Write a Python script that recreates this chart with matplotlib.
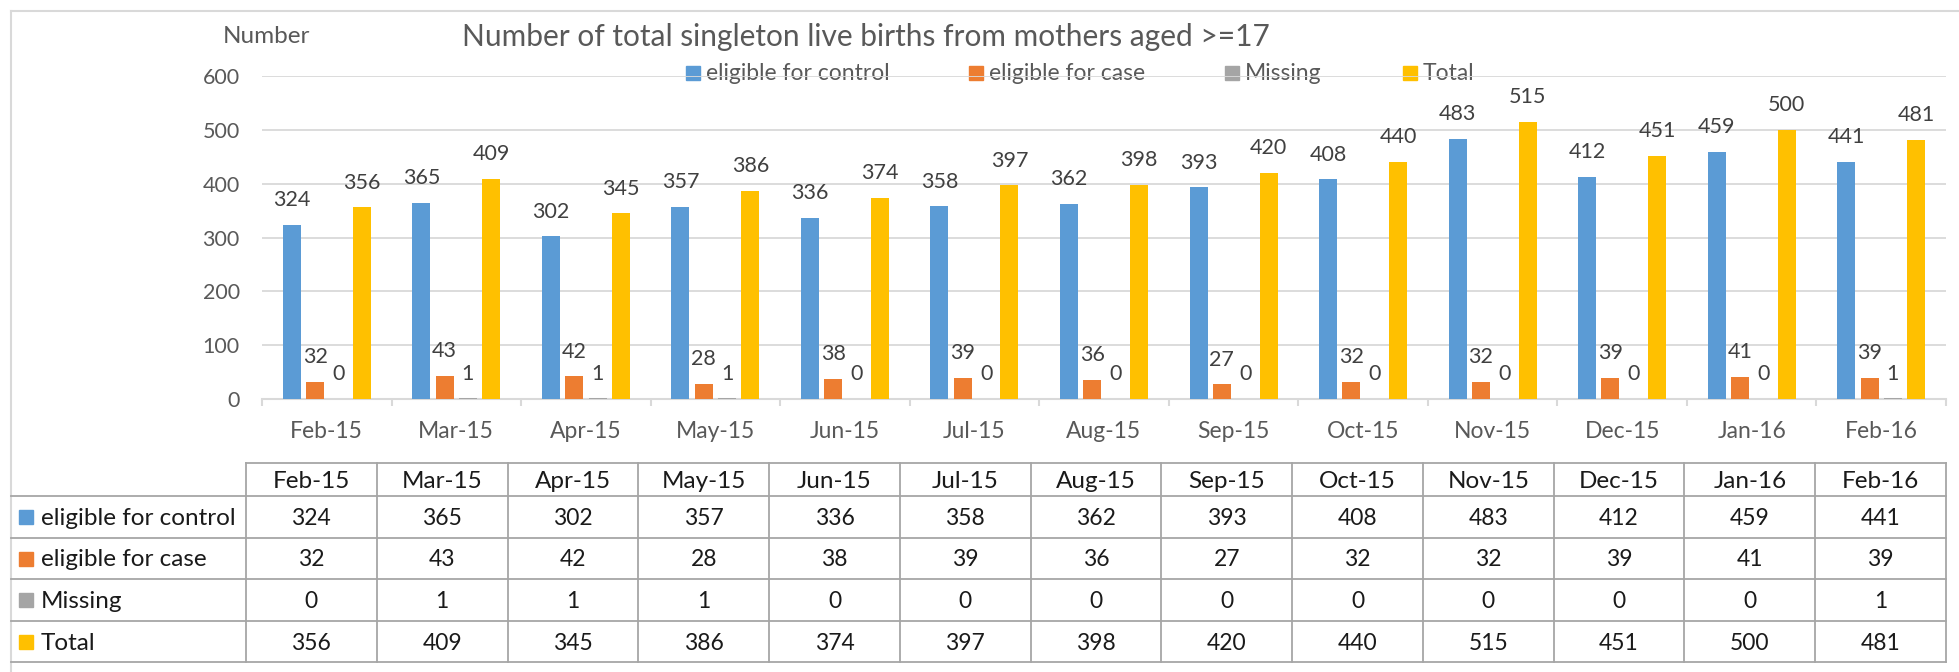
import numpy as np
import matplotlib
matplotlib.use('Agg')
import matplotlib.pyplot as plt
from matplotlib.patches import Rectangle

plt.rcParams['font.family'] = ['Lato', 'DejaVu Sans']

months = ['Feb-15', 'Mar-15', 'Apr-15', 'May-15', 'Jun-15', 'Jul-15', 'Aug-15',
          'Sep-15', 'Oct-15', 'Nov-15', 'Dec-15', 'Jan-16', 'Feb-16']
series_names = ['eligible for control', 'eligible for case', 'Missing', 'Total']
control = [324, 365, 302, 357, 336, 358, 362, 393, 408, 483, 412, 459, 441]
case = [32, 43, 42, 28, 38, 39, 36, 27, 32, 32, 39, 41, 39]
missing = [0, 1, 1, 1, 0, 0, 0, 0, 0, 0, 0, 0, 1]
total = [356, 409, 345, 386, 374, 397, 398, 420, 440, 515, 451, 500, 481]
y_ticks = [0, 100, 200, 300, 400, 500, 600]

colors = ['#5b9bd5', '#ed7d31', '#a5a5a5', '#ffc000']
series = [control, case, missing, total]

W, H = 1959, 672
fig = plt.figure(figsize=(W / 100, H / 100), dpi=100)

# background axes in pixel coords (frame, title, legend, data table)
bg = fig.add_axes([0, 0, 1, 1], zorder=0)
bg.set_xlim(0, W)
bg.set_ylim(H, 0)
bg.axis('off')

# chart area
ax = fig.add_axes([262 / W, 1 - 399 / H, (1946 - 262) / W, (399 - 76) / H], zorder=1)
ax.set_facecolor('none')

idx = np.arange(len(months))
offsets = [-0.27, -0.09, 0.09, 0.27]
bar_w = 0.139

for k, vals in enumerate(series):
    xs = idx + offsets[k]
    ax.bar(xs, vals, width=bar_w, color=colors[k], zorder=3)
    for x, v in zip(xs, vals):
        ax.annotate(str(v), (x, v), xytext=(0, 13.5), textcoords='offset points',
                    ha='center', va='baseline', fontsize=15.5, color='#404040')

ax.set_xlim(-0.5, len(months) - 0.5)
ax.set_ylim(0, 600)
ax.set_yticks(y_ticks)
ax.yaxis.grid(True, color='#d9d9d9', linewidth=1.3)
ax.set_axisbelow(True)
for s in ['top', 'right', 'left']:
    ax.spines[s].set_visible(False)
ax.spines['bottom'].set_color('#d9d9d9')
ax.spines['bottom'].set_linewidth(1.5)

# category boundaries get the tick marks, centres get the labels
ax.set_xticks(np.arange(-0.5, len(months)), labels=[''] * (len(months) + 1))
ax.set_xticks(idx, labels=months, minor=True)
ax.tick_params(axis='x', which='major', length=5, width=1.5, color='#d9d9d9')
ax.tick_params(axis='x', which='minor', length=0, pad=15.5, labelsize=16.5, labelcolor='#595959')
ax.tick_params(axis='y', length=0, pad=16, labelsize=15.5, labelcolor='#595959')

# outer frame (only top and left edges are visible in the crop)
bg.plot([11, 11], [11, H], color='#d9d9d9', linewidth=1.5)
bg.plot([11, W], [11, 11], color='#d9d9d9', linewidth=1.5)

# titles
bg.text(866, 46, 'Number of total singleton live births from mothers aged >=17',
        ha='center', va='baseline', fontsize=21.5, color='#595959')
bg.text(266, 43, 'Number', ha='center', va='baseline', fontsize=17.5, color='#595959')

# legend
leg_x = [686, 969, 1225, 1403]
for x0, name, c in zip(leg_x, series_names, colors):
    bg.add_patch(Rectangle((x0, 66), 14, 14, color=c, zorder=3))
    bg.text(x0 + 20, 80, name, ha='left', va='baseline', fontsize=16.5,
            color='#595959', zorder=3)

# data table under the chart
row_lines = [463, 496, 538, 579, 621, 662]
col_left = 246
col_w = (1946 - 246) / len(months)
col_edges = [col_left + i * col_w for i in range(len(months) + 1)]
line_c = '#a6a6a6'
bg.plot([col_left, 1946], [row_lines[0], row_lines[0]], color=line_c, linewidth=1.3)
for y in row_lines[1:]:
    bg.plot([11, 1946], [y, y], color=line_c, linewidth=1.3)
for x in col_edges:
    bg.plot([x, x], [row_lines[0], row_lines[-1]], color=line_c, linewidth=1.3)

centers = [(row_lines[i] + row_lines[i + 1]) / 2 for i in range(5)]
for j, m in enumerate(months):
    cx = col_left + (j + 0.5) * col_w
    bg.text(cx, centers[0] + 8, m, ha='center', va='baseline', fontsize=17.5, color='#1a1a1a')
    for r, vals in enumerate(series):
        bg.text(cx, centers[r + 1] + 8, str(vals[j]), ha='center', va='baseline',
                fontsize=16.5, color='#1a1a1a')

for r, (name, c) in enumerate(zip(series_names, colors)):
    cy = centers[r + 1]
    bg.add_patch(Rectangle((19, cy - 7), 14, 14, color=c))
    bg.text(41, cy + 8, name, ha='left', va='baseline', fontsize=17.5, color='#1a1a1a')

fig.savefig('out.png', dpi=100)
